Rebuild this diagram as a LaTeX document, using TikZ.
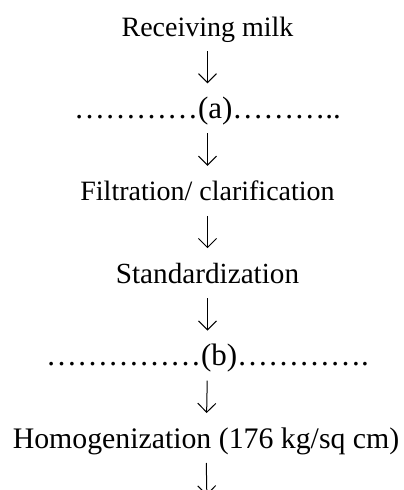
\documentclass[tikz,border=0pt]{standalone}
\usepackage{fontspec}
\setmainfont{Liberation Serif}
\usetikzlibrary{arrows.meta}
\tikzset{
  stage/.style={anchor=base, inner sep=0pt, font=\fontsize{28}{34}\selectfont},
  blank/.style={stage, font=\fontsize{31}{37}\selectfont},
  flow/.style={line width=1pt, shorten <=15pt, shorten >=35pt,
    -{Straight Barb[length=9pt,width=18pt,line width=1pt]}}
}
\begin{document}
\begin{tikzpicture}[x=1pt,y=1pt]
  \useasboundingbox (0,0) rectangle (404,-490);
  % one step every 82.4pt, baselines only
  \node[stage] (recv) at (207.5,-36)    {Receiving milk};
  \node[blank] (a)    at (207.5,-118.4) {…………(a)………..};
  \node[stage] (filt) at (207.5,-200.8) {Filtration/ clarification};
  \node[stage, font=\fontsize{29.2}{35}\selectfont] (std) at (207.5,-283.2) {Standardization};
  \node[blank] (b)    at (207.5,-365.6) {……………(b)………….};
  \node[stage, font=\fontsize{29.8}{36}\selectfont] (homo) at (206,-448) {Homogenization (176 kg/sq cm)};
  \coordinate (next) at (207.5,-530.4);
  \draw[flow] (recv.base) -- (a.base);
  \draw[flow] (a.base)    -- (filt.base);
  \draw[flow] (filt.base) -- (std.base);
  \draw[flow] (std.base)  -- (b.base);
  \draw[flow] (b.base)    -- (homo.base);
  \draw[flow] (homo.base) -- (next);
\end{tikzpicture}
\end{document}
